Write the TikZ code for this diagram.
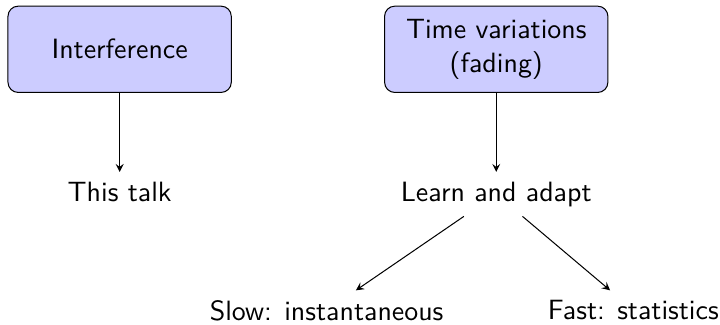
\documentclass[tikz,border=0pt,11pt]{standalone}
\usepackage{tikz}
\usetikzlibrary{positioning, arrows}
\renewcommand{\familydefault}{\sfdefault}
\tikzstyle{topic} = [rectangle, rounded corners=4pt, minimum width=3.08cm, minimum height=1.19cm, text centered, align=center, draw=black, fill=blue!20]
\tikzstyle{idea} = [text centered]
\tikzstyle{arrow} = [->,>=stealth]

\begin{document}
\begin{tikzpicture}[node distance=1.09cm]
        % page margins first, the first box sits at the origin
        \useasboundingbox (-1.65,0.68) rectangle ++(9.93,-4.47);

        \node (interference) [topic] {Interference};
        \node (timevar) [topic, right=2.1cm of interference] {Time variations\\(fading)};
        \node (talk) [idea, below=of interference] {This talk};
        \node (learn) [idea, below=of timevar] {Learn and adapt};
        \node (slow) [idea, below=1.02cm of learn, xshift=-2.34cm] {Slow: instantaneous};
        \node (fast) [idea, below=1.02cm of learn, xshift=1.89cm] {Fast: statistics};

        \draw [arrow] (interference) -- (talk);
        \draw [arrow] (timevar) -- (learn);
        \draw [arrow] (learn) -- (slow);
        \draw [arrow] (learn) -- (fast);
\end{tikzpicture}
\end{document}
